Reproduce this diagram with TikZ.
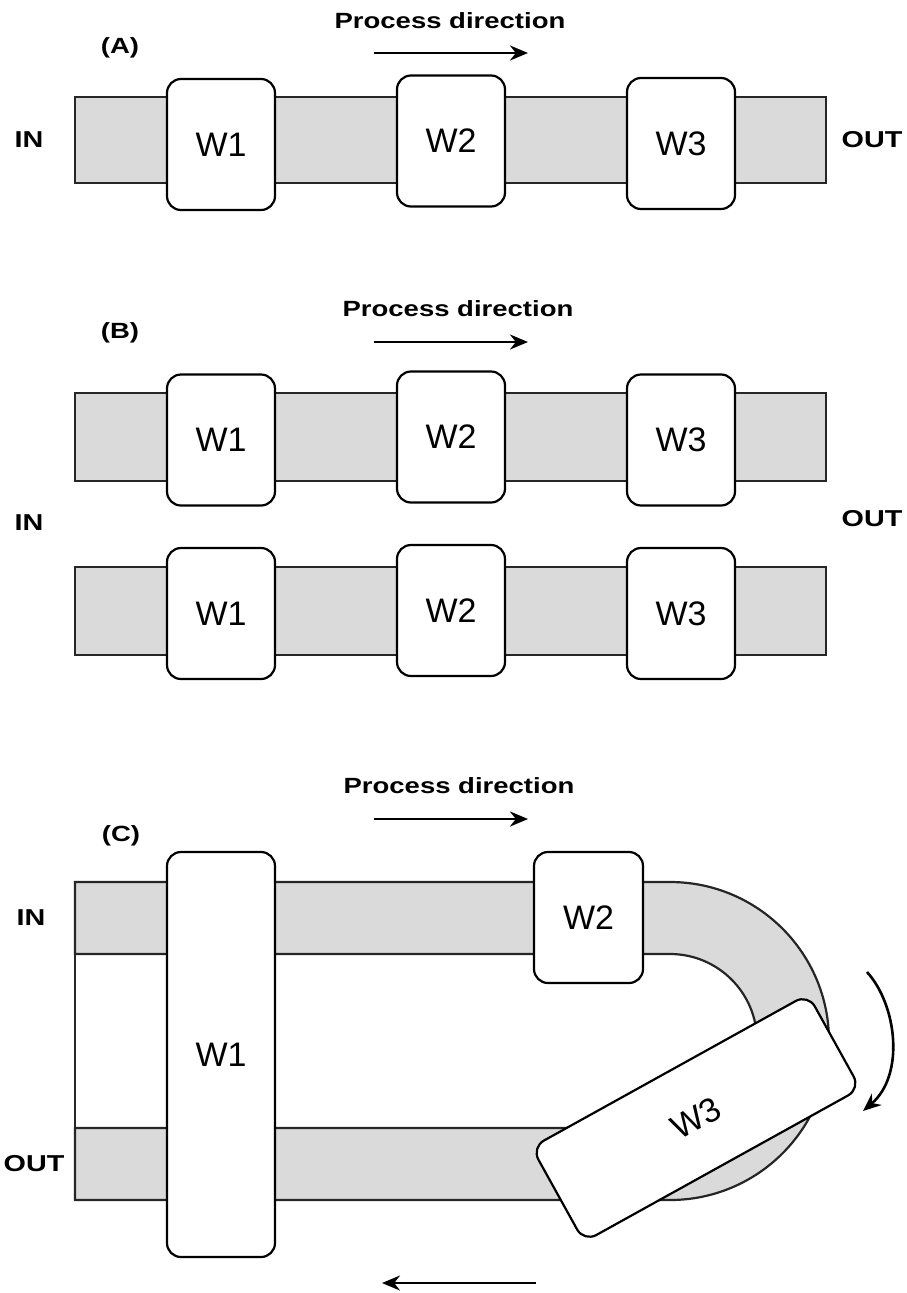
\documentclass[tikz,border=0pt]{standalone}
\usepackage{fontspec}
\usepackage{graphicx}
\setmainfont{Liberation Sans}
\usetikzlibrary{arrows.meta}
\definecolor{bandgray}{RGB}{218,218,218}
\newcommand{\wide}[1]{\scalebox{1.25}[1]{#1}}
\tikzset{
  wbox/.style={draw=black, line width=2.2pt, fill=white, rounded corners=14pt,
    minimum width=108pt, minimum height=131pt, inner sep=0pt,
    font=\fontsize{34}{40}\selectfont},
  band/.style={draw=black!85, line width=2.2pt, fill=bandgray},
  lbl/.style={font=\bfseries\fontsize{22}{26}\selectfont, inner sep=0pt},
  sidelbl/.style={font=\bfseries\fontsize{23}{27}\selectfont, inner sep=0pt},
  parr/.style={-{Stealth[length=18pt,width=15pt]}, line width=2.6pt},
}
\begin{document}
\begin{tikzpicture}[x=1pt,y=-1pt]
\useasboundingbox (0,0) rectangle (906,1293);

% ---------------- (A) ----------------
\node[lbl] (pdA) at (450,21) {\wide{Process direction}};
\coordinate (pdAs) at (374,53);
\coordinate (pdAe) at (528,53);
\draw[parr] (pdAs) -- (pdAe);
\node[lbl] (labA) at (120,48) {\wide{(A)}};
\node[sidelbl] (inA) at (29,140) {\wide{IN}};
\node[sidelbl] (outA) at (872,140) {\wide{OUT}};
\draw[band] (75,97) rectangle (826,183);
\node[wbox] (a1) at (221,144.5) {W1};
\node[wbox] (a2) at (451,141) {W2};
\node[wbox] (a3) at (681,143.5) {W3};

% ---------------- (B) ----------------
\node[lbl] (pdB) at (458,309) {\wide{Process direction}};
\coordinate (pdBs) at (374,342);
\coordinate (pdBe) at (528,342);
\draw[parr] (pdBs) -- (pdBe);
\node[lbl] (labB) at (120,333) {\wide{(B)}};
\node[sidelbl] (inB) at (29,523) {\wide{IN}};
\node[sidelbl] (outB) at (872,519) {\wide{OUT}};
\draw[band] (75,393) rectangle (826,481);
\draw[band] (75,567) rectangle (826,655);
\node[wbox] (b1) at (221,440) {W1};
\node[wbox] (b2) at (451,437) {W2};
\node[wbox] (b3) at (681,440) {W3};
\node[wbox] (c1) at (221,613.5) {W1};
\node[wbox] (c2) at (451,610.5) {W2};
\node[wbox] (c3) at (681,613.5) {W3};

% ---------------- (C) ----------------
\node[lbl] (pdC) at (459,786) {\wide{Process direction}};
\coordinate (pdCs) at (374,819);
\coordinate (pdCe) at (528,819);
\draw[parr] (pdCs) -- (pdCe);
\node[lbl] (labC) at (121,836) {\wide{(C)}};
\node[sidelbl] (inC) at (31,918) {\wide{IN}};
\node[sidelbl] (outC) at (34,1164) {\wide{OUT}};

\draw[band] (75,882) -- (670,882)
  arc[start angle=-90, end angle=90, radius=159]
  -- (75,1200) -- (75,1128) -- (670,1128)
  arc[start angle=90, end angle=-90, radius=87]
  -- (75,954) -- cycle;
\draw[draw=black!85, line width=2.2pt] (75,954) -- (75,1128);

\node[wbox, minimum height=405pt] (d1) at (221,1054.5) {W1};
\node[wbox, minimum width=109pt] (d2) at (588.5,917.5) {W2};
\node[wbox, minimum width=316pt, minimum height=108pt, rotate=29] (d3) at (696,1118) {W3};

\coordinate (rs) at (867,972);
\coordinate (re) at (863,1111);
\draw[parr] (rs) .. controls (897,1005) and (905,1075) .. (re);

\coordinate (bs) at (536,1283);
\coordinate (be) at (382,1283);
\draw[parr] (bs) -- (be);
\end{tikzpicture}
\end{document}
